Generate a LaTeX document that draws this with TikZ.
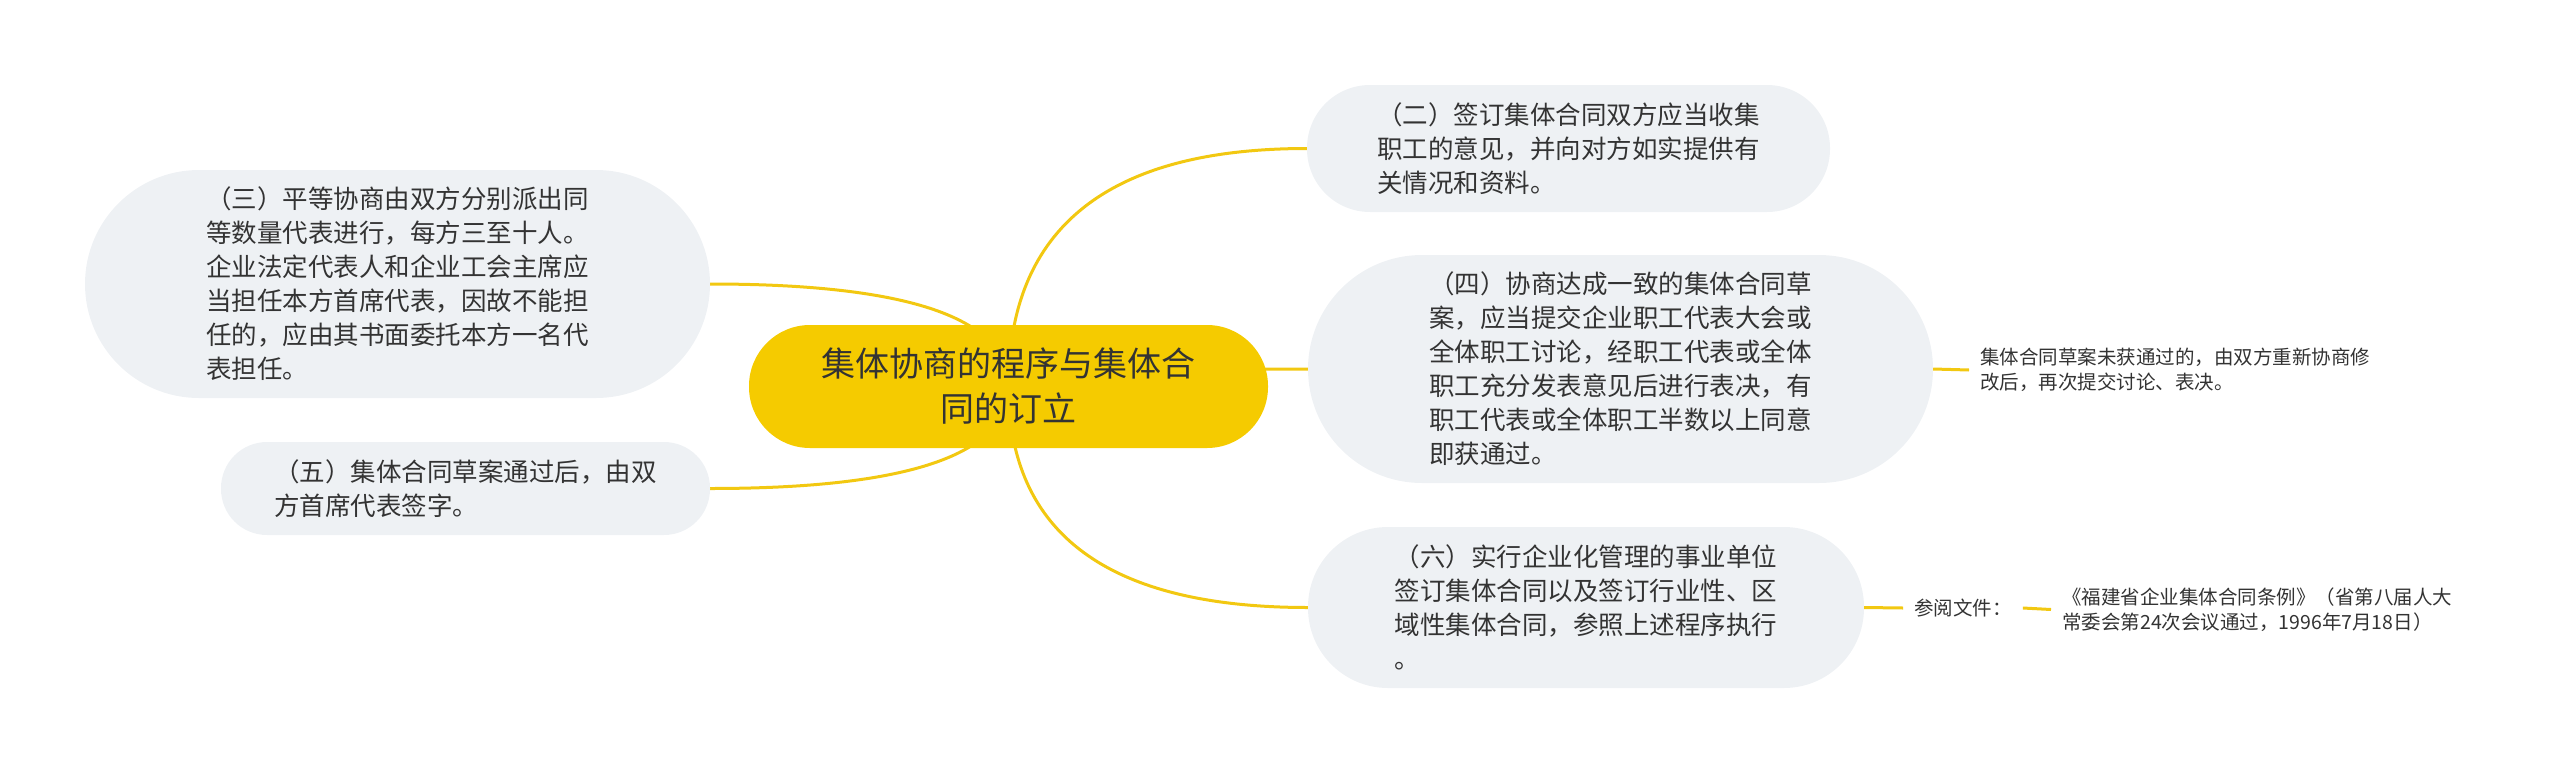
\documentclass[tikz,border=0pt]{standalone}
\usepackage{fontspec}
\setmainfont{Noto Sans CJK SC}
\usetikzlibrary{calc,backgrounds}
\definecolor{boxgray}{HTML}{EEF1F4}
\definecolor{rootyellow}{HTML}{F5CB00}
\definecolor{linkyellow}{HTML}{F2C811}
\definecolor{inkgray}{HTML}{333333}

\begin{document}
\begin{tikzpicture}[
    x=1pt, y=-1pt,
    every node/.style={text=inkgray, inner sep=0pt},
    root/.style={fill=rootyellow, rounded corners=61pt, minimum width=519pt, minimum height=123pt, align=center, font=\fontsize{34pt}{45pt}\selectfont},
    topic/.style={fill=boxgray, align=left, font=\fontsize{25.5pt}{34pt}\selectfont},
    note/.style={anchor=west, align=left, inner xsep=11pt, font=\fontsize{19.5pt}{25pt}\selectfont},
    link/.style={draw=linkyellow, line width=3pt, to path={.. controls ($(\tikztostart)!2/3!(\tikztostart |- \tikztotarget)$) and ($(\tikztotarget)!2/3!(\tikztostart |- \tikztotarget)$) .. (\tikztotarget)}},
    stub/.style={draw=linkyellow, line width=3pt}
]
\useasboundingbox (0,0) rectangle (2560,774);

\node[root] (R) at (1008.5,386.5) {集体协商的程序与集体合\\同的订立};

\node[topic, minimum width=523pt, minimum height=127pt, rounded corners=63pt] (B2) at (1568.5,148.5) {（二）签订集体合同双方应当收集\\职工的意见，并向对方如实提供有\\关情况和资料。};
\node[topic, minimum width=625pt, minimum height=228pt, rounded corners=114pt] (B3) at (397.5,284) {（三）平等协商由双方分别派出同\\等数量代表进行，每方三至十人。\\企业法定代表人和企业工会主席应\\当担任本方首席代表，因故不能担\\任的，应由其书面委托本方一名代\\表担任。};
\node[topic, minimum width=625pt, minimum height=228pt, rounded corners=114pt] (B4) at (1620.5,369) {（四）协商达成一致的集体合同草\\案，应当提交企业职工代表大会或\\全体职工讨论，经职工代表或全体\\职工充分发表意见后进行表决，有\\职工代表或全体职工半数以上同意\\即获通过。};
\node[topic, minimum width=489pt, minimum height=93pt, rounded corners=46pt] (B5) at (465.5,488.5) {（五）集体合同草案通过后，由双\\方首席代表签字。};
\node[topic, minimum width=556pt, minimum height=161pt, rounded corners=80pt] (B6) at (1586,607.5) {（六）实行企业化管理的事业单位\\签订集体合同以及签订行业性、区\\域性集体合同，参照上述程序执行\\。};

\node[note] (N4) at (1969,370) {集体合同草案未获通过的，由双方重新协商修\\改后，再次提交讨论、表决。};
\node[note] (REF) at (1903,608) {参阅文件：};
\node[note] (DOC) at (2051,609.5) {《福建省企业集体合同条例》（省第八届人大\\常委会第24次会议通过，1996年7月18日）};

\begin{scope}[on background layer]
\draw[link] (R.center) to (B2.west);
\draw[link] (R.center) to (B3.east);
\draw[link] (R.center) to (B4.west);
\draw[link] (R.center) to (B5.east);
\draw[link] (R.center) to (B6.west);
\end{scope}

\draw[stub] (B4.east) -- (N4.west);
\draw[stub] (B6.east) -- (REF.west);
\draw[stub] (REF.east) -- (DOC.west);

\end{tikzpicture}
\end{document}
